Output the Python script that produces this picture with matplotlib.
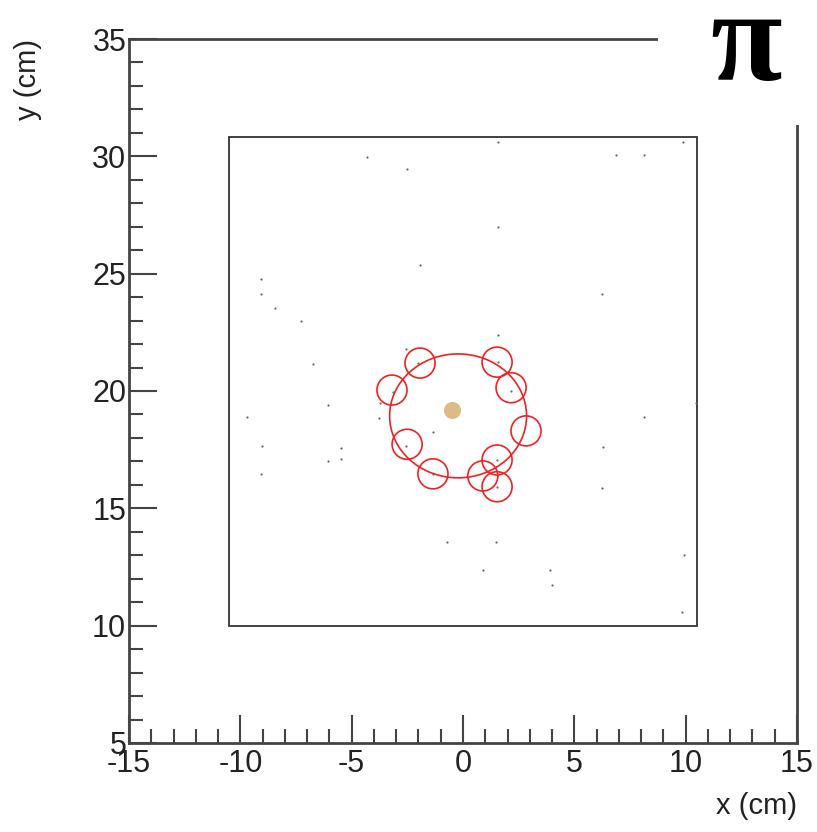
import matplotlib
matplotlib.use("Agg")
from matplotlib import pyplot as plt
from matplotlib.patches import Ellipse, Rectangle
import numpy as np

plt.rcParams['font.family'] = ['Liberation Sans', 'DejaVu Sans']
plt.rcParams['axes.unicode_minus'] = False

# detector box (cm)
box_x = [-10.5, 10.5]
box_y = [10.0, 30.82]

# ring fit
ring_center = (-0.22, 18.94)
ring_w = 6.15
ring_h = 5.28

# hit circles (centres, cm)
hit_x = [-3.19, -1.93, 1.53, 2.16, 2.83, -2.51, -1.35, 0.89, 1.53, 1.53]
hit_y = [20.04, 21.19, 21.23, 20.14, 18.30, 17.73, 16.47, 16.38, 17.06, 15.92]
hit_w = 1.35
hit_h = 1.28

# ring centre estimate
center_x = [-0.49]
center_y = [19.19]

# noise hits
noise_x = [-4.32, -2.53, -1.93, -9.07, -9.07, -8.44, -7.29, -6.72, -2.57, 1.56,
           9.87, 6.87, 8.11, 1.59, 6.26, 1.56, 1.56, -9.69, -6.05, -3.73,
           -3.77, -3.16, -9.03, -9.07, -5.48, -5.48, -6.05, -1.33, -2.57, -1.33,
           -0.73, 2.16, 10.46, 8.11, 6.30, 6.23, 1.51, 1.51, 1.48, 0.91,
           3.91, 3.98, 9.94, 9.85, -2.02]
noise_y = [29.99, 29.45, 25.37, 24.79, 24.12, 23.54, 22.97, 21.15, 21.79, 30.62,
           30.63, 30.07, 30.07, 27.00, 24.12, 22.39, 21.25, 18.91, 19.41, 19.49,
           18.83, 19.97, 17.67, 16.47, 17.59, 17.09, 17.02, 18.26, 17.67, 16.47,
           13.57, 20.01, 19.48, 18.88, 17.63, 15.86, 17.06, 15.92, 13.57, 12.38,
           12.38, 11.72, 13.00, 10.57, 21.20]

fig = plt.figure(figsize=(8.17, 8.32), dpi=100)
ax = fig.add_axes([129/817, 89/832, 668/817, 704/832])
ax.set_xlim(-15, 15)
ax.set_ylim(5, 35)

ax.add_patch(Rectangle((box_x[0], box_y[0]), box_x[1]-box_x[0], box_y[1]-box_y[0],
                       fill=False, edgecolor="#333333", linewidth=1.3))

ax.scatter(noise_x, noise_y, s=2.5, color="#666666", linewidths=0, zorder=2)

ax.add_patch(Ellipse(ring_center, ring_w, ring_h, fill=False, edgecolor="#ee2222", linewidth=1.2, zorder=3))
for hx, hy in zip(hit_x, hit_y):
    ax.add_patch(Ellipse((hx, hy), hit_w, hit_h, fill=False, edgecolor="#ee2222", linewidth=1.2, zorder=3))

ax.scatter(center_x, center_y, s=150, color="#dcbb86", linewidths=0, zorder=4)

ax.set_xticks(np.arange(-15, 16, 5))
ax.set_yticks(np.arange(5, 36, 5))
ax.set_xticks(np.arange(-15, 16, 1), minor=True)
ax.set_yticks(np.arange(5, 36, 1), minor=True)
ax.tick_params(which="both", direction="in", top=False, right=False, color="#444444", width=1.5)
ax.tick_params(which="major", length=20, labelsize=22, labelcolor="#222222")
ax.tick_params(axis="x", which="major", pad=4)
ax.tick_params(axis="y", which="major", pad=2)
ax.tick_params(which="minor", length=10)
for s in ax.spines.values():
    s.set_color("#444444")
    s.set_linewidth(2)

ax.set_xlabel("x (cm)", fontsize=21, loc="right", labelpad=10, color="#222222")
ax.set_ylabel("y (cm)", fontsize=21, loc="top", labelpad=36, color="#222222")

# white label box hiding the frame corner
fig.patches.append(Rectangle((658/817, 1 - 125/832), 1, 1, transform=fig.transFigure,
                             facecolor="white", edgecolor="none", zorder=5))
fig.text(746/817, 1 - 80/832, "\u03c0", fontsize=94, fontweight="bold", family="Liberation Serif",
         ha="center", va="baseline", zorder=6)

fig.savefig("out.png", dpi=100)
